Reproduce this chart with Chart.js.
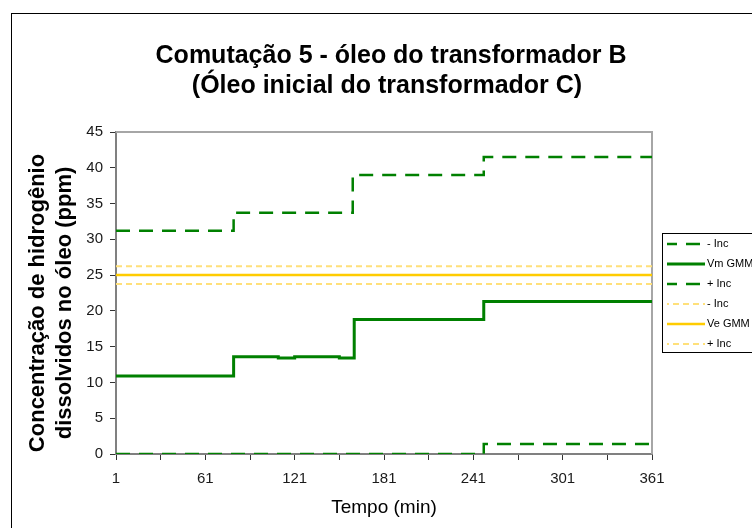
<!DOCTYPE html>
<html>
<head>
<meta charset="utf-8">
<script src="https://cdn.jsdelivr.net/npm/chart.js@4/dist/chart.umd.min.js"></script>
<style>
  body { margin: 0; background: #fff; }
  canvas { display: block; }
</style>
</head>
<body>
<canvas id="chart" width="752" height="528"></canvas>
<script>
// Each series is a step curve: the minute a level starts and the level held from there
const vmTimes = [1, 80, 110, 121, 151, 161, 248, 361];
const vmValues = [10.9, 13.6, 13.4, 13.6, 13.4, 18.8, 21.3, 21.3];
const vmUpTimes = [1, 80, 160, 248, 361];
const vmUpValues = [31.2, 33.7, 39.0, 41.5, 41.5];
const vmLowTimes = [1, 248, 361];
const vmLowValues = [0, 1.4, 1.4];
const veTimes = [1, 361];
const veValues = [25, 25];
const veUpValues = [26.25, 26.25];
const veLowValues = [23.75, 23.75];

const seriesLabels = ['- Inc', 'Vm GMM', '+ Inc', '- Inc', 'Ve GMM', '+ Inc'];
const xTickValues = [1, 31, 61, 91, 121, 151, 181, 211, 241, 271, 301, 331, 361];
const xLabelValues = [1, 61, 121, 181, 241, 301, 361];
const titleLines = ['Comutação 5 - óleo do transformador B', '(Óleo inicial do transformador C)'];
const yTitleLines = ['Concentração de hidrogênio', 'dissolvidos no óleo (ppm)'];
const xTitle = 'Tempo (min)';

const GREEN = '#008000';
const YELLOW = '#ffcc00';
const YELLOW_LIGHT = '#ffe07a';

function toPoints(times, values) {
    return times.map((t, i) => ({ x: t, y: values[i] }));
}

function stepLine(label, points, color, width, dash) {
    return {
        label: label,
        data: points,
        borderColor: color,
        backgroundColor: color,
        borderWidth: width,
        borderDash: dash,
        stepped: true,
        pointRadius: 0,
        fill: false
    };
}

const datasets = [
    stepLine(seriesLabels[0], toPoints(vmUpTimes, vmUpValues), GREEN, 2.5, [14, 9]),
    stepLine(seriesLabels[1], toPoints(vmTimes, vmValues), GREEN, 3, []),
    stepLine(seriesLabels[2], toPoints(vmLowTimes, vmLowValues), GREEN, 2.5, [14, 9]),
    stepLine(seriesLabels[3], toPoints(veTimes, veUpValues), YELLOW_LIGHT, 2, [6, 4]),
    stepLine(seriesLabels[4], toPoints(veTimes, veValues), YELLOW, 2.5, []),
    stepLine(seriesLabels[5], toPoints(veTimes, veLowValues), YELLOW_LIGHT, 2, [6, 4])
];

// outer frame and the light border on top/right of the plot
const framePlugin = {
    id: 'frame',
    beforeDraw(chart) {
        const ctx = chart.ctx;
        ctx.save();
        ctx.fillStyle = '#fff';
        ctx.fillRect(0, 0, chart.width, chart.height);
        ctx.strokeStyle = '#000';
        ctx.lineWidth = 1;
        ctx.strokeRect(11.5, 13.5, 900, 700);
        ctx.restore();
    },
    beforeDatasetsDraw(chart) {
        const { ctx, chartArea: a } = chart;
        ctx.save();
        ctx.strokeStyle = '#a6a6a6';
        ctx.lineWidth = 2;
        ctx.beginPath();
        ctx.moveTo(a.left, a.top);
        ctx.lineTo(a.right, a.top);
        ctx.lineTo(a.right, a.bottom);
        ctx.stroke();
        ctx.restore();
    }
};

// titles drawn by hand so each line sits where it should
const textPlugin = {
    id: 'texts',
    afterDraw(chart) {
        const ctx = chart.ctx;
        ctx.save();
        ctx.fillStyle = '#000';
        ctx.textAlign = 'center';
        ctx.textBaseline = 'alphabetic';
        ctx.font = 'bold 25px "Liberation Sans", Arial, sans-serif';
        ctx.fillText(titleLines[0], 391, 63);
        ctx.fillText(titleLines[1], 387, 93);

        ctx.font = '19px "Liberation Sans", Arial, sans-serif';
        ctx.textBaseline = 'middle';
        ctx.fillText(xTitle, 384, 508);

        ctx.font = 'bold 22px "Liberation Sans", Arial, sans-serif';
        ctx.translate(0, 303);
        ctx.rotate(-Math.PI / 2);
        ctx.fillText(yTitleLines[0], 0, 38);
        ctx.fillText(yTitleLines[1], 0, 65);
        ctx.restore();
    }
};

// boxed legend on the right, partly running off the page
const legendPlugin = {
    id: 'boxLegend',
    afterDraw(chart) {
        const ctx = chart.ctx;
        ctx.save();
        ctx.fillStyle = '#fff';
        ctx.fillRect(662.5, 233.5, 120, 119);
        ctx.strokeStyle = '#000';
        ctx.lineWidth = 1;
        ctx.strokeRect(662.5, 233.5, 120, 119);
        ctx.font = '11px "Liberation Sans", Arial, sans-serif';
        ctx.textBaseline = 'middle';
        chart.data.datasets.forEach((ds, i) => {
            const y = 244 + i * 20;
            ctx.strokeStyle = ds.borderColor;
            ctx.lineWidth = ds.borderWidth;
            ctx.setLineDash(ds.borderDash);
            ctx.lineDashOffset = ds.borderDash.length ? 4 : 0;
            ctx.beginPath();
            ctx.moveTo(667, y);
            ctx.lineTo(705, y);
            ctx.stroke();
            ctx.setLineDash([]);
            ctx.fillStyle = '#000';
            ctx.fillText(ds.label, 707, y);
        });
        ctx.restore();
    }
};

new Chart(document.getElementById('chart'), {
    type: 'line',
    data: { datasets: datasets },
    options: {
        responsive: false,
        animation: false,
        layout: { padding: { top: 132, right: 100, left: 0, bottom: 0 } },
        plugins: {
            legend: { display: false },
            title: { display: false },
            tooltip: { enabled: false }
        },
        scales: {
            x: {
                type: 'linear',
                min: 1,
                max: 361,
                afterBuildTicks: (scale) => {
                    scale.ticks = xTickValues.map(v => ({ value: v }));
                },
                afterFit: (scale) => { scale.height = 74; },
                ticks: {
                    autoSkip: false,
                    maxRotation: 0,
                    padding: 10,
                    color: '#1a1a1a',
                    font: { family: '"Liberation Sans", Arial, sans-serif', size: 15 },
                    callback: (v) => xLabelValues.includes(v) ? String(v) : ''
                },
                grid: { drawOnChartArea: false, drawTicks: true, tickLength: 6, color: '#333' },
                border: { color: '#808080', width: 2 }
            },
            y: {
                min: 0,
                max: 45,
                afterFit: (scale) => { scale.width = 116; },
                ticks: {
                    stepSize: 5,
                    padding: 7,
                    color: '#1a1a1a',
                    font: { family: '"Liberation Sans", Arial, sans-serif', size: 15 }
                },
                grid: { drawOnChartArea: false, drawTicks: true, tickLength: 6, color: '#333' },
                border: { color: '#808080', width: 2 }
            }
        }
    },
    plugins: [framePlugin, textPlugin, legendPlugin]
});
</script>
</body>
</html>
